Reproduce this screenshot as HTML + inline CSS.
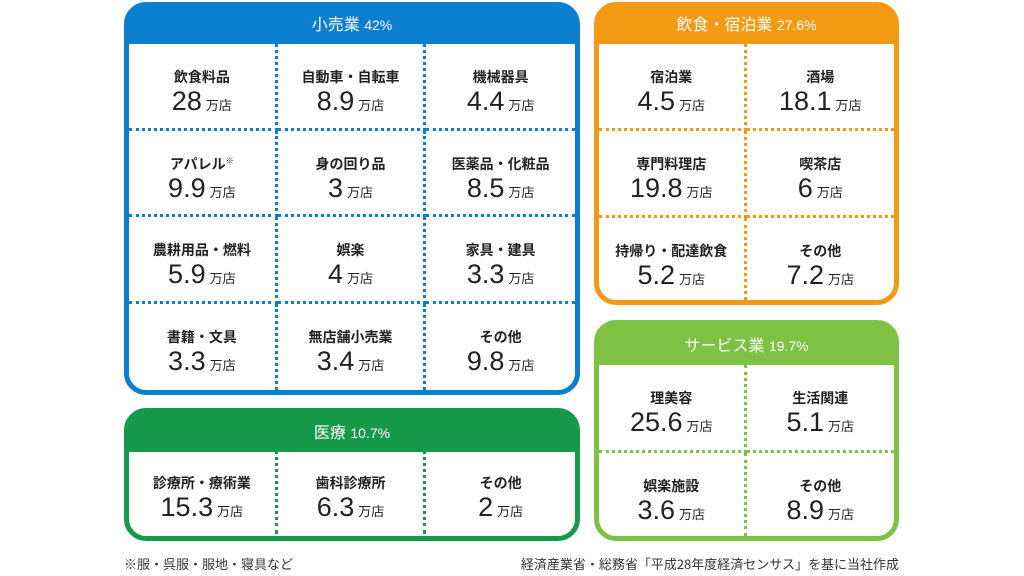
<!DOCTYPE html>
<html><head><meta charset="utf-8"><style>
*{margin:0;padding:0;box-sizing:border-box}
body{width:1024px;height:576px;background:#fff;position:relative;overflow:hidden;font-family:"Liberation Sans","Noto Sans CJK JP",sans-serif;color:#222}
.box{position:absolute;border-radius:22px;border:5px solid}
.hd{height:37px;color:#fff;text-align:center;font-size:16px;line-height:37px;font-weight:normal;font-family:"Liberation Sans","Noto Sans CJK JP",sans-serif}
.hd span{font-size:14px}
.grid{position:absolute;left:0;right:0;bottom:0;background:#fff;border-radius:0 0 17px 17px;display:grid}
.c{position:relative;text-align:center}
.c .l{position:absolute;top:23px;left:0;right:0;font-size:14px;font-weight:bold;font-family:"Noto Sans CJK JP",sans-serif}
.c .n{position:absolute;top:42px;left:0;right:0;font-size:27px;line-height:30px}
.c .n small{font-size:13px;margin-left:4px;font-family:"Noto Sans CJK JP",sans-serif}
.foot{position:absolute;top:554px;font-size:13px;font-family:"Noto Sans CJK JP",sans-serif;color:#333}
</style></head><body>

<div class="box" style="left:124px;top:2px;width:456px;height:393px;border-color:#0a7fcf;background:#0a7fcf">
<div class="hd">小売業 <span>42%</span></div>
<div class="grid" style="top:37px;grid-template-columns:repeat(3,1fr);grid-template-rows:repeat(4,1fr)">
<div class="c" style="border-right:3px dotted #0a7fcf;border-bottom:3px dotted #0a7fcf"><div class="l">飲食料品</div><div class="n">28<small>万店</small></div></div>
<div class="c" style="border-right:3px dotted #0a7fcf;border-bottom:3px dotted #0a7fcf"><div class="l">自動車・自転車</div><div class="n">8.9<small>万店</small></div></div>
<div class="c" style="border-bottom:3px dotted #0a7fcf"><div class="l">機械器具</div><div class="n">4.4<small>万店</small></div></div>
<div class="c" style="border-right:3px dotted #0a7fcf;border-bottom:3px dotted #0a7fcf"><div class="l">アパレル<sup style="font-size:8px">※</sup></div><div class="n">9.9<small>万店</small></div></div>
<div class="c" style="border-right:3px dotted #0a7fcf;border-bottom:3px dotted #0a7fcf"><div class="l">身の回り品</div><div class="n">3<small>万店</small></div></div>
<div class="c" style="border-bottom:3px dotted #0a7fcf"><div class="l">医薬品・化粧品</div><div class="n">8.5<small>万店</small></div></div>
<div class="c" style="border-right:3px dotted #0a7fcf;border-bottom:3px dotted #0a7fcf"><div class="l">農耕用品・燃料</div><div class="n">5.9<small>万店</small></div></div>
<div class="c" style="border-right:3px dotted #0a7fcf;border-bottom:3px dotted #0a7fcf"><div class="l">娯楽</div><div class="n">4<small>万店</small></div></div>
<div class="c" style="border-bottom:3px dotted #0a7fcf"><div class="l">家具・建具</div><div class="n">3.3<small>万店</small></div></div>
<div class="c" style="border-right:3px dotted #0a7fcf"><div class="l">書籍・文具</div><div class="n">3.3<small>万店</small></div></div>
<div class="c" style="border-right:3px dotted #0a7fcf"><div class="l">無店舗小売業</div><div class="n">3.4<small>万店</small></div></div>
<div class="c"><div class="l">その他</div><div class="n">9.8<small>万店</small></div></div>
</div></div>

<div class="box" style="left:124px;top:408px;width:456px;height:133px;border-color:#17994a;background:#17994a">
<div class="hd" style="height:39px;line-height:40px">医療 <span>10.7%</span></div>
<div class="grid" style="top:39px;grid-template-columns:repeat(3,1fr)">
<div class="c" style="border-right:3px dotted #17994a;top:-2px"><div class="l">診療所・療術業</div><div class="n">15.3<small>万店</small></div></div>
<div class="c" style="border-right:3px dotted #17994a;top:-2px"><div class="l">歯科診療所</div><div class="n">6.3<small>万店</small></div></div>
<div class="c" style="top:-2px"><div class="l">その他</div><div class="n">2<small>万店</small></div></div>
</div></div>

<div class="box" style="left:594px;top:2px;width:305px;height:303px;border-color:#f39a14;background:#f39a14">
<div class="hd">飲食・宿泊業 <span>27.6%</span></div>
<div class="grid" style="top:37px;grid-template-columns:repeat(2,1fr);grid-template-rows:87px 87px 1fr">
<div class="c" style="border-right:3px dotted #f39a14;border-bottom:3px dotted #f39a14"><div class="l">宿泊業</div><div class="n">4.5<small>万店</small></div></div>
<div class="c" style="border-bottom:3px dotted #f39a14"><div class="l">酒場</div><div class="n">18.1<small>万店</small></div></div>
<div class="c" style="border-right:3px dotted #f39a14;border-bottom:3px dotted #f39a14"><div class="l">専門料理店</div><div class="n">19.8<small>万店</small></div></div>
<div class="c" style="border-bottom:3px dotted #f39a14"><div class="l">喫茶店</div><div class="n">6<small>万店</small></div></div>
<div class="c" style="border-right:3px dotted #f39a14"><div class="l">持帰り・配達飲食</div><div class="n">5.2<small>万店</small></div></div>
<div class="c"><div class="l">その他</div><div class="n">7.2<small>万店</small></div></div>
</div></div>

<div class="box" style="left:594px;top:320px;width:305px;height:221px;border-color:#7dc242;background:#7dc242">
<div class="hd" style="height:40px;line-height:42px">サービス業 <span>19.7%</span></div>
<div class="grid" style="top:40px;grid-template-columns:repeat(2,1fr);grid-template-rows:88px 1fr">
<div class="c" style="border-right:3px dotted #7dc242;border-bottom:3px dotted #7dc242"><div class="l">理美容</div><div class="n">25.6<small>万店</small></div></div>
<div class="c" style="border-bottom:3px dotted #7dc242"><div class="l">生活関連</div><div class="n">5.1<small>万店</small></div></div>
<div class="c" style="border-right:3px dotted #7dc242"><div class="l">娯楽施設</div><div class="n">3.6<small>万店</small></div></div>
<div class="c"><div class="l">その他</div><div class="n">8.9<small>万店</small></div></div>
</div></div>

<div class="foot" style="left:124px">※服・呉服・服地・寝具など</div>
<div class="foot" style="right:125px">経済産業省・総務省「平成28年度経済センサス」を基に当社作成</div>
</body></html>
